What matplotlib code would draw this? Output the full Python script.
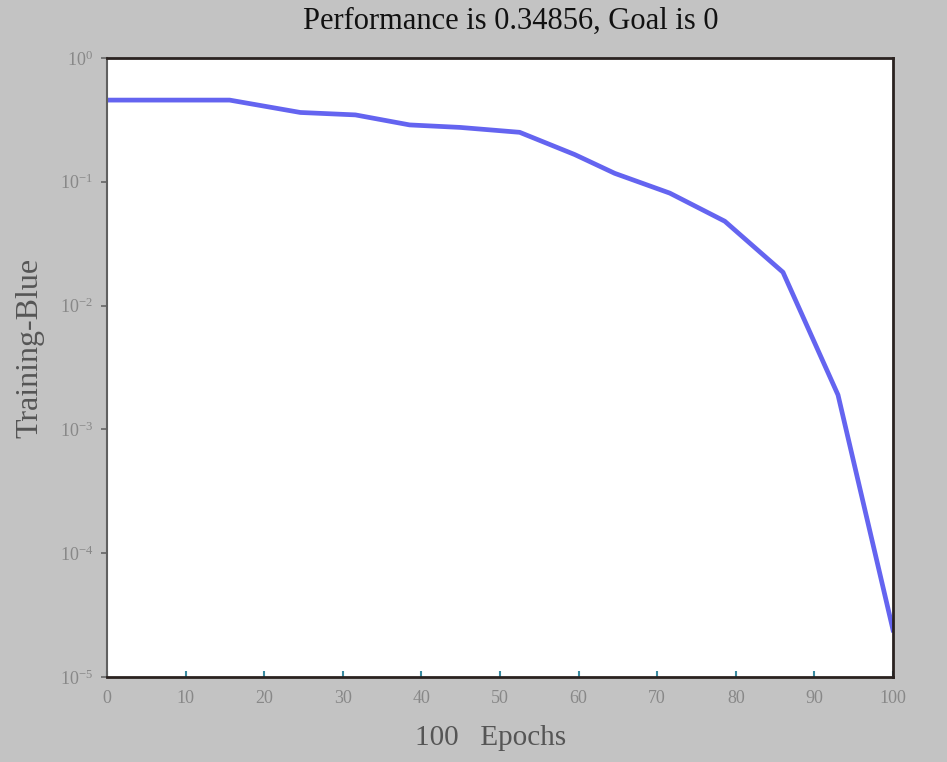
"""Training performance curve on a log scale."""

import matplotlib

matplotlib.use("Agg")
import matplotlib.pyplot as plt
from matplotlib.ticker import FixedLocator, NullLocator

# training performance per epoch
epochs = [0, 15.6, 24.6, 31.6, 38.5, 44.9, 52.5, 59.5, 64.6, 71.6, 78.6, 86.0, 93.0, 100]
perf = [0.457, 0.457, 0.363, 0.347, 0.288, 0.275, 0.251, 0.166, 0.117,
        0.081, 0.048, 0.0186, 0.0019, 0.000024]

x_ticks = [0, 10, 20, 30, 40, 50, 60, 70, 80, 90, 100]
y_ticks = [1e0, 1e-1, 1e-2, 1e-3, 1e-4, 1e-5]
y_tick_labels = [r"$10^{0}$", r"$10^{-1}$", r"$10^{-2}$", r"$10^{-3}$", r"$10^{-4}$", r"$10^{-5}$"]

plt.rcParams["font.family"] = ["Liberation Serif", "DejaVu Serif"]
plt.rcParams["mathtext.fontset"] = "custom"
plt.rcParams["mathtext.rm"] = "Liberation Serif"
plt.rcParams["mathtext.it"] = "Liberation Serif"

fig = plt.figure(figsize=(9.47, 7.62), dpi=100, facecolor="#c3c3c3")
ax = fig.add_axes([0.113, 0.1115, 0.830, 0.8124])
ax.set_facecolor("white")

ax.semilogy(epochs, perf, color="#6464f0", lw=3.4, solid_joinstyle="round")

ax.set_xlim(0, 100)
ax.set_ylim(1e-5, 1e0)
ax.xaxis.set_major_locator(FixedLocator(x_ticks))
ax.set_xticklabels([str(t) for t in x_ticks])
ax.yaxis.set_major_locator(FixedLocator(y_ticks))
ax.yaxis.set_minor_locator(NullLocator())
ax.set_yticklabels(y_tick_labels)

ax.tick_params(axis="x", direction="in", length=4, width=1.5, colors="#3a8aa0",
               labelcolor="#888888", labelsize=13, pad=9)
ax.tick_params(axis="y", direction="out", length=4, width=1.2, colors="#666666",
               labelcolor="#888888", labelsize=13, pad=6)

for side in ["top", "right", "bottom"]:
    ax.spines[side].set_color("#2a2220")
    ax.spines[side].set_linewidth(2)
ax.spines["left"].set_color("#606060")
ax.spines["left"].set_linewidth(1.5)

fig.text(0.539, 0.972, "Performance is 0.34856, Goal is 0", ha="center", va="center",
         fontsize=22, color="#111111")
fig.text(0.032, 0.543, "Training-Blue", ha="center", va="center", rotation=90,
         fontsize=23, color="#555555")
fig.text(0.518, 0.031, "100   Epochs", ha="center", va="center",
         fontsize=21, color="#555555")

fig.savefig("out.png", dpi=100, facecolor=fig.get_facecolor())
